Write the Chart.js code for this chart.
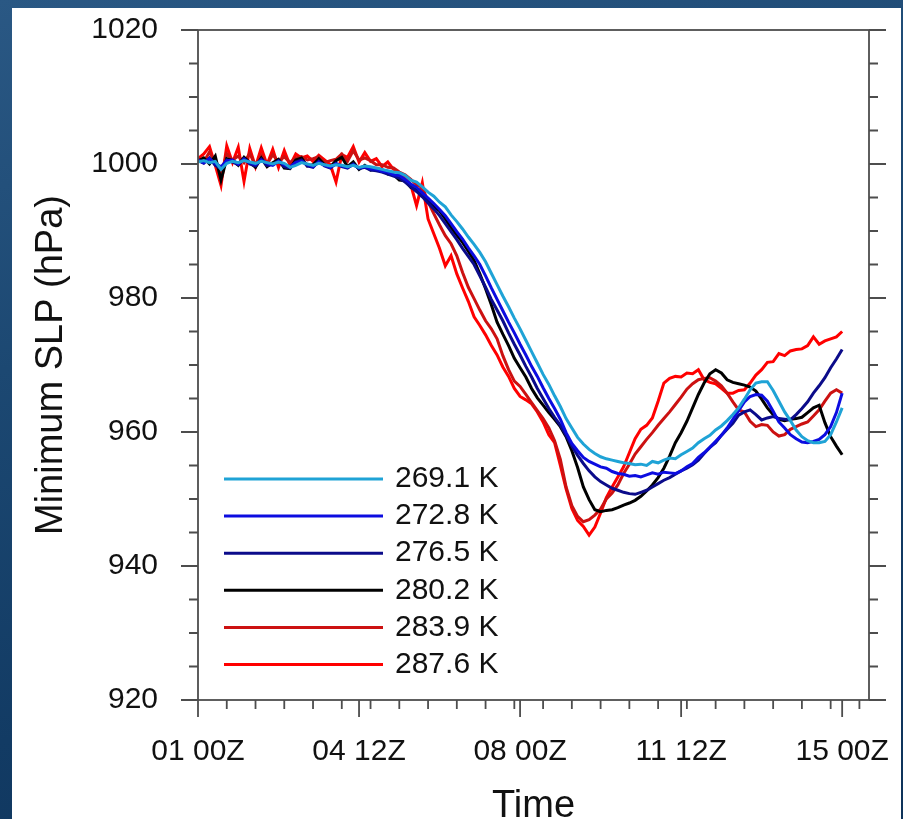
<!DOCTYPE html>
<html lang="en">
<head>
<meta charset="UTF-8">
<title>Minimum SLP</title>
<script src="https://cdn.jsdelivr.net/npm/chart.js"></script>
<style>
  html, body { margin: 0; padding: 0; }
  body {
    width: 903px; height: 819px; overflow: hidden; position: relative;
    background: linear-gradient(165deg, #2a5884 0%, #1c4872 35%, #123b64 70%, #0e335a 100%);
  }
  #panel { position: absolute; left: 12px; top: 8px; width: 889px; height: 811px; background: #fff; }
  #wrap { position: absolute; left: 0; top: 0; width: 903px; height: 819px; }
</style>
</head>
<body>
<div id="panel"></div>
<div id="wrap"><canvas id="slpChart" width="903" height="819"></canvas></div>
<script>
// minimum sea-level pressure (hPa), 3-hourly from 01 00Z, one row per day
const slp2691 = [
  1000.3, 1000.5, 1000.2, 1000.4, 999.2, 1000.1, 1000.4, 1000.2,
  1000.5, 1000.3, 1000.1, 1000.4, 1000.2, 1000.0, 1000.3, 1000.1,
  999.5, 999.8, 1000.2, 1000.0, 999.8, 1000.1, 999.9, 999.7,
  999.9, 999.8, 999.6, 999.8, 999.5, 999.7, 999.6, 999.4,
  999.2, 999.0, 998.8, 998.7, 998.3, 997.6, 997.3, 996.6,
  995.8, 995.2, 994.3, 993.6, 992.4, 991.4, 990.3, 989.1,
  988.0, 986.8, 985.4, 983.7, 982.0, 980.3, 978.7, 977.0,
  975.4, 973.7, 972.0, 970.3, 968.6, 967.1, 965.4, 963.8,
  962.0, 960.6, 959.2, 958.2, 957.4, 956.8, 956.3, 956.0,
  955.8, 955.6, 955.4, 955.3, 955.1, 955.2, 955.0, 955.6,
  955.4, 955.8, 956.1, 956.0, 956.6, 957.1, 957.6, 958.4,
  959.0, 959.5, 960.3, 960.9, 961.7, 962.6, 963.6, 964.9,
  966.3, 967.3, 967.5, 967.5, 966.2, 964.6, 963.0, 961.7,
  960.3, 959.3, 958.7, 958.4, 958.4, 958.6, 959.6, 961.5,
  963.6
];
const slp2728 = [
  1000.6, 1000.2, 1000.8, 1000.1, 999.6, 1000.5, 1000.6, 1000.0,
  1000.7, 1000.2, 999.9, 1000.6, 1000.1, 999.8, 1000.4, 999.9,
  999.6, 1000.2, 1000.4, 999.9, 999.6, 1000.3, 999.8, 999.5,
  1000.0, 999.7, 999.5, 999.9, 999.4, 999.6, 999.3, 999.2,
  998.9, 998.8, 998.4, 998.3, 997.7, 997.0, 996.5, 995.7,
  994.9, 994.1, 993.2, 992.3, 991.1, 989.9, 988.8, 987.5,
  986.3, 985.0, 983.3, 981.5, 979.8, 978.1, 976.4, 974.8,
  973.1, 971.5, 969.8, 968.3, 966.6, 965.0, 963.5, 961.9,
  959.9, 958.3, 957.2, 956.2, 955.6, 955.2, 954.8, 954.6,
  954.1, 953.8, 953.7, 953.4, 953.5, 953.3, 953.6, 953.9,
  953.7, 954.0, 953.9, 953.8, 954.2, 954.8, 955.3, 956.2,
  956.9, 957.7, 958.6, 959.5, 960.6, 961.9, 963.2, 964.5,
  965.3, 965.6, 965.5, 964.6, 963.1, 961.5, 960.6, 959.6,
  959.0, 958.5, 958.4, 958.6, 958.9, 959.6, 960.8, 962.9,
  965.8
];
const slp2765 = [
  1000.5, 1000.1, 1000.9, 999.8, 999.3, 1000.6, 1000.3, 999.9,
  1000.8, 1000.0, 999.7, 1000.7, 999.8, 999.9, 1000.5, 999.6,
  999.4, 1000.3, 1000.6, 999.7, 999.5, 1000.4, 999.7, 999.4,
  1000.1, 999.6, 999.4, 1000.0, 999.3, 999.5, 999.1, 999.0,
  998.8, 998.5, 998.2, 997.9, 997.3, 996.6, 995.9, 995.1,
  994.2, 993.3, 992.3, 991.1, 989.9, 988.7, 987.4, 986.2,
  985.0, 983.3, 981.6, 979.8, 978.2, 976.6, 974.8, 973.1,
  971.5, 969.8, 968.2, 966.5, 965.0, 963.5, 962.2, 961.0,
  959.5, 957.9, 956.5, 955.3, 954.2, 953.3, 952.6, 952.1,
  951.6, 951.3, 951.0, 950.8, 950.7, 951.0, 951.3, 951.8,
  952.3, 952.8, 953.2, 953.7, 954.2, 954.6, 955.1, 955.8,
  956.8, 957.7, 958.4, 959.5, 960.4, 961.3, 962.5, 963.0,
  963.3, 962.6, 961.8, 962.1, 962.3, 962.0, 961.9, 961.8,
  962.6, 963.5, 964.5, 965.8, 966.9, 968.1, 969.6, 970.9,
  972.3
];
const slp2802 = [
  1000.4, 1000.9, 1000.0, 1001.2, 997.6, 1000.8, 1000.5, 999.8,
  1001.0, 1000.2, 999.5, 1000.9, 999.6, 1000.2, 1000.7, 999.4,
  999.3, 1000.6, 1000.9, 999.7, 999.9, 1000.8, 999.9, 999.6,
  1000.5, 1001.0, 999.6, 1000.3, 999.2, 999.8, 999.1, 999.3,
  999.2, 998.5, 998.4, 997.6, 997.5, 996.5, 996.2, 995.6,
  994.7, 993.7, 993.0, 991.8, 990.5, 989.4, 988.3, 987.0,
  985.6, 983.6, 981.4, 979.0, 976.4, 974.6, 972.9, 971.0,
  969.6, 968.2, 966.5, 965.1, 964.0, 962.9, 961.9, 960.8,
  959.3, 957.2, 954.7, 951.8, 949.9, 948.4, 948.1, 948.3,
  948.4, 948.7, 949.1, 949.4, 949.8, 950.4, 951.2, 952.1,
  953.2, 954.6, 956.4, 958.4, 959.9, 961.6, 963.6, 965.6,
  967.3, 968.7, 969.3, 968.8, 967.8, 967.4, 967.2, 967.0,
  966.7, 966.1, 964.9, 963.6, 962.6, 961.9, 961.7, 961.9,
  962.0, 962.2, 962.9, 963.6, 964.0, 961.4, 959.3, 957.9,
  956.6
];
const slp2839 = [
  1000.9, 1000.3, 1001.8, 1000.1, 998.4, 1001.5, 1000.6, 1001.2,
  1000.2, 1001.6, 999.7, 1001.3, 1000.0, 1001.4, 1000.3, 1001.1,
  1000.2, 1000.9, 1001.1, 1000.6, 1000.8, 1001.1, 1000.2, 1000.5,
  1000.7, 1001.5, 1000.4, 1002.0, 1000.6, 1000.9, 1000.5, 999.9,
  999.9, 999.5, 999.4, 998.8, 998.4, 997.7, 996.9, 996.5,
  994.4, 992.6, 990.9, 989.3, 988.1, 986.3, 983.8, 981.6,
  979.9, 978.2, 976.6, 975.4, 973.9, 971.4, 969.3, 967.6,
  966.8, 965.6, 964.4, 963.2, 962.0, 960.6, 958.7, 955.9,
  951.8, 949.0, 947.4, 946.6, 946.9, 947.6, 948.5, 950.0,
  950.9, 952.1, 953.8, 955.2, 956.7, 957.8, 958.9, 959.9,
  961.0, 962.0, 963.0, 964.1, 965.2, 966.4, 967.2, 967.8,
  968.0, 968.1, 967.6, 966.9, 965.8, 964.5, 963.3, 963.0,
  961.6, 960.8, 961.1, 961.0, 960.0, 959.4, 959.6, 960.4,
  960.8, 961.2, 961.5, 962.4, 963.3, 964.6, 965.8, 966.3,
  965.8
];
const slp2876 = [
  1000.8, 1001.5, 1002.6, 999.8, 996.8, 1002.7, 1000.2, 1002.5,
  997.4, 1002.3, 999.6, 1002.4, 999.9, 1002.2, 999.5, 1002.0,
  999.8, 1001.5, 1000.9, 1001.2, 1000.4, 1001.3, 1000.6, 999.9,
  997.3, 1001.4, 1001.0, 1002.6, 1000.3, 1001.7, 1000.4, 1000.8,
  999.6, 1000.3, 999.2, 998.7, 998.0, 996.9, 993.8, 997.2,
  991.8, 989.6, 987.4, 984.8, 986.3, 983.6, 981.5, 979.5,
  977.2, 975.9, 974.5, 972.9, 971.5, 969.7, 968.3, 966.5,
  965.3, 964.8, 964.2, 963.0, 961.5, 959.6, 958.4, 955.0,
  951.5, 948.6, 946.8, 945.9, 944.6, 945.8, 947.9, 950.2,
  951.8, 953.3, 954.8, 956.9, 959.0, 960.4, 961.0, 962.1,
  964.6, 967.3, 968.0, 968.3, 968.2, 968.8, 968.7, 969.3,
  967.8, 967.4, 967.2, 966.5, 965.8, 965.8, 966.2, 966.3,
  967.3, 968.5, 969.3, 970.4, 970.5, 971.7, 971.4, 972.1,
  972.3, 972.4, 972.9, 974.2, 973.1, 973.6, 973.9, 974.2,
  975.0
];

const sstLabels = ['269.1 K', '272.8 K', '276.5 K', '280.2 K', '283.9 K', '287.6 K'];
const lineColors = ['#1fa3d6', '#0c0ce0', '#0b0b8a', '#000000', '#cc1111', '#ff0000'];
const allSeries = [slp2691, slp2728, slp2765, slp2802, slp2839, slp2876];

const STEP_HOURS = 3;
const hours = slp2691.map((_, i) => i * STEP_HOURS);

const xTickHours = [0, 84, 168, 252, 336];
const xTickLabels = ['01 00Z', '04 12Z', '08 00Z', '11 12Z', '15 00Z'];
const xMinorStep = 15;
const yTicks = [920, 940, 960, 980, 1000, 1020];
const yMinorStep = 5;

const FONT = '"Liberation Sans", Arial, Helvetica, sans-serif';

// frame, outward tick marks, inset legend and axis titles
const framePlugin = {
  id: 'frame',
  afterDatasetsDraw(chart) {
    const { ctx, chartArea: a, scales: { x, y } } = chart;
    ctx.save();
    ctx.strokeStyle = '#4d4d4d';
    ctx.lineWidth = 1.8;
    ctx.strokeRect(a.left, a.top, a.right - a.left, a.bottom - a.top);

    ctx.beginPath();
    for (let v = y.min; v <= y.max; v += yMinorStep) {
      const p = y.getPixelForValue(v);
      const len = yTicks.includes(v) ? 17 : 9;
      ctx.moveTo(a.left - len, p); ctx.lineTo(a.left, p);
      ctx.moveTo(a.right, p); ctx.lineTo(a.right + len, p);
    }
    xTickHours.forEach(h => {
      const p = x.getPixelForValue(h);
      ctx.moveTo(p, a.bottom); ctx.lineTo(p, a.bottom + 17);
    });
    for (let h = xMinorStep; h < x.max; h += xMinorStep) {
      const p = x.getPixelForValue(h);
      ctx.moveTo(p, a.bottom); ctx.lineTo(p, a.bottom + 9);
    }
    ctx.stroke();

    // legend in the lower left of the plot
    ctx.font = '30px ' + FONT;
    ctx.textAlign = 'left';
    ctx.textBaseline = 'middle';
    ctx.fillStyle = '#111';
    chart.data.datasets.forEach((ds, i) => {
      const yy = a.bottom - 221 + i * 37.1;
      ctx.strokeStyle = ds.borderColor;
      ctx.lineWidth = 3;
      ctx.beginPath();
      ctx.moveTo(a.left + 26, yy);
      ctx.lineTo(a.left + 185, yy);
      ctx.stroke();
      ctx.fillText(ds.label, a.left + 197, yy);
    });

    // axis titles
    ctx.font = '38px ' + FONT;
    ctx.textAlign = 'center';
    ctx.textBaseline = 'alphabetic';
    ctx.fillText('Time', (a.left + a.right) / 2, 817);
    ctx.translate(62, (a.top + a.bottom) / 2);
    ctx.rotate(-Math.PI / 2);
    ctx.fillText('Minimum SLP (hPa)', 0, 0);
    ctx.restore();
  }
};

new Chart(document.getElementById('slpChart'), {
  type: 'line',
  data: {
    datasets: allSeries.map((vals, k) => ({
      label: sstLabels[k],
      data: vals.map((v, i) => ({ x: hours[i], y: v })),
      borderColor: lineColors[k],
      borderWidth: 3,
      pointRadius: 0,
      tension: 0,
      fill: false
    }))
  },
  options: {
    responsive: false,
    animation: false,
    devicePixelRatio: 1,
    layout: { padding: { top: 30, right: 34, left: 0, bottom: 0 } },
    plugins: { legend: { display: false }, tooltip: { enabled: false } },
    scales: {
      x: {
        type: 'linear',
        min: 0,
        max: 350,
        afterBuildTicks: s => { s.ticks = xTickHours.map(v => ({ value: v })); },
        afterFit: s => { s.height = 119; s.paddingLeft = 0; s.paddingRight = 0; },
        grid: { display: false, drawTicks: false },
        border: { display: false },
        ticks: {
          autoSkip: false,
          maxRotation: 0,
          padding: 34,
          color: '#111',
          font: { family: FONT, size: 30 },
          callback: v => xTickLabels[xTickHours.indexOf(v)]
        }
      },
      y: {
        min: 920,
        max: 1020,
        afterBuildTicks: s => { s.ticks = yTicks.map(v => ({ value: v })); },
        afterFit: s => { s.width = 198; s.paddingTop = 0; s.paddingBottom = 0; },
        grid: { display: false, drawTicks: false },
        border: { display: false },
        ticks: {
          padding: 40,
          color: '#111',
          font: { family: FONT, size: 30 },
          callback: v => String(v)
        }
      }
    }
  },
  plugins: [framePlugin]
});
</script>
</body>
</html>
